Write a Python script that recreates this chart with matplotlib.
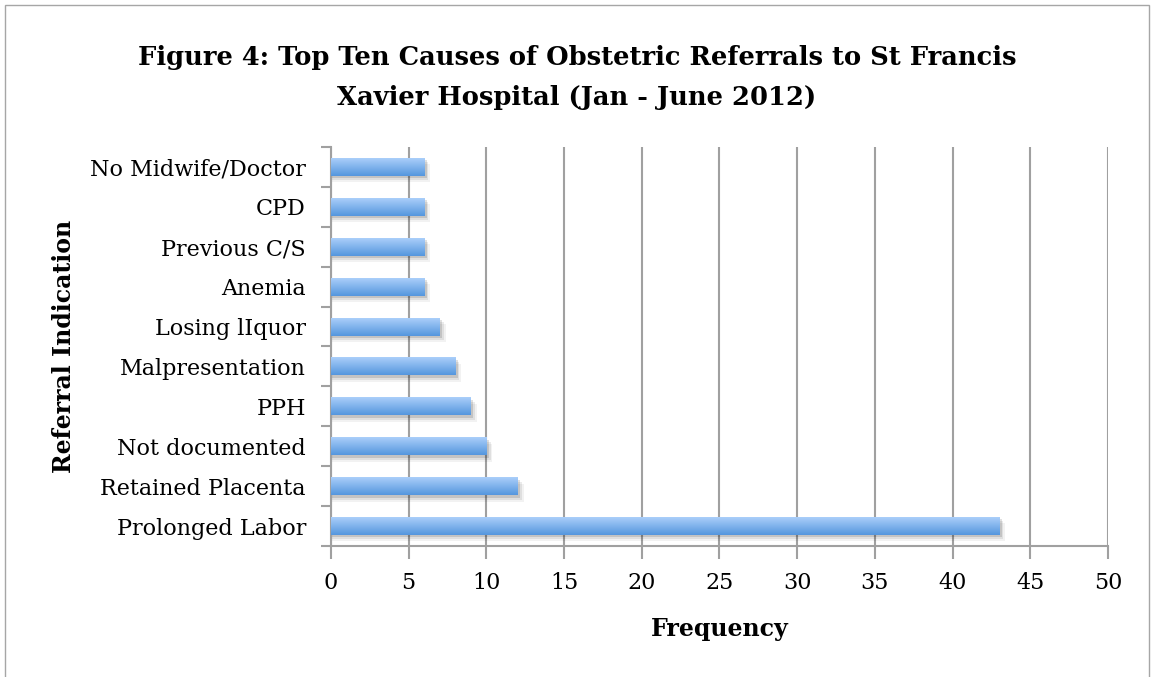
import matplotlib.pyplot as plt
import numpy as np
from matplotlib.patches import Rectangle

# Data
causes = ['Prolonged Labor', 'Retained Placenta', 'Not documented', 'PPH',
          'Malpresentation', 'Losing lIquor', 'Anemia', 'Previous C/S', 'CPD',
          'No Midwife/Doctor']
frequency = [43, 12, 10, 9, 8, 7, 6, 6, 6, 6]
x_ticks = [0, 5, 10, 15, 20, 25, 30, 35, 40, 45, 50]

plt.rcParams['font.family'] = ['DejaVu Serif']

fig = plt.figure(figsize=(11.54, 6.77), dpi=100)
ax = fig.add_axes([0.2868, 0.1935, 0.6733, 0.5894])

# outer chart border
fig.patches.append(Rectangle((0.004, -0.01), 0.992, 1.002, transform=fig.transFigure,
                             fill=False, edgecolor='#a6a6a6', linewidth=1))

y = np.arange(len(causes))
h = 0.45
grad = np.linspace(0, 1, 100).reshape(-1, 1)
top_c = np.array([0.67, 0.81, 0.98])
bot_c = np.array([0.33, 0.59, 0.87])
img = top_c[None, None, :] * (1 - grad[:, :, None]) + bot_c[None, None, :] * grad[:, :, None]

for yi, v in zip(y, frequency):
    # soft shadow
    for k, a in enumerate([0.12, 0.08, 0.05]):
        off = 0.06 + k * 0.05
        ax.add_patch(Rectangle((0, yi - h / 2 - off), v + 0.15 + k * 0.12, h,
                               facecolor='black', alpha=a, linewidth=0, zorder=2))
    bar = ax.barh(yi, v, height=h, color='none', linewidth=0, zorder=3)[0]
    im = ax.imshow(img, extent=[0, v, yi - h / 2, yi + h / 2], aspect='auto',
                   origin='upper', zorder=3)
    im.set_clip_path(bar)

ax.set_xlim(0, 50)
ax.set_ylim(-0.5, len(causes) - 0.5)
ax.set_xticks(x_ticks)
ax.set_yticks(y)
ax.set_yticklabels(causes)
ax.set_yticks(np.arange(-0.5, len(causes), 1), minor=True)
ax.tick_params(axis='y', which='major', length=0, labelsize=16, pad=18)
ax.tick_params(axis='y', which='minor', length=7, width=1.5, color='#a0a0a0')
ax.tick_params(axis='x', length=9, width=1.5, color='#a0a0a0', labelsize=16, pad=10)
ax.grid(axis='x', color='#a0a0a0', linewidth=1.5, zorder=1)
ax.set_axisbelow(True)
for s in ['top', 'right']:
    ax.spines[s].set_visible(False)
for s in ['left', 'bottom']:
    ax.spines[s].set_color('#a0a0a0')
    ax.spines[s].set_linewidth(1.5)

ax.set_xlabel('Frequency', fontsize=17, fontweight='bold', labelpad=16)
ax.set_ylabel('Referral Indication', fontsize=17, fontweight='bold', labelpad=10)
fig.text(0.5, 0.885, 'Figure 4: Top Ten Causes of Obstetric Referrals to St Francis\nXavier Hospital (Jan - June 2012)',
         ha='center', va='center', fontsize=18.5, fontweight='bold', linespacing=1.75)

fig.savefig('out.png', dpi=100)
